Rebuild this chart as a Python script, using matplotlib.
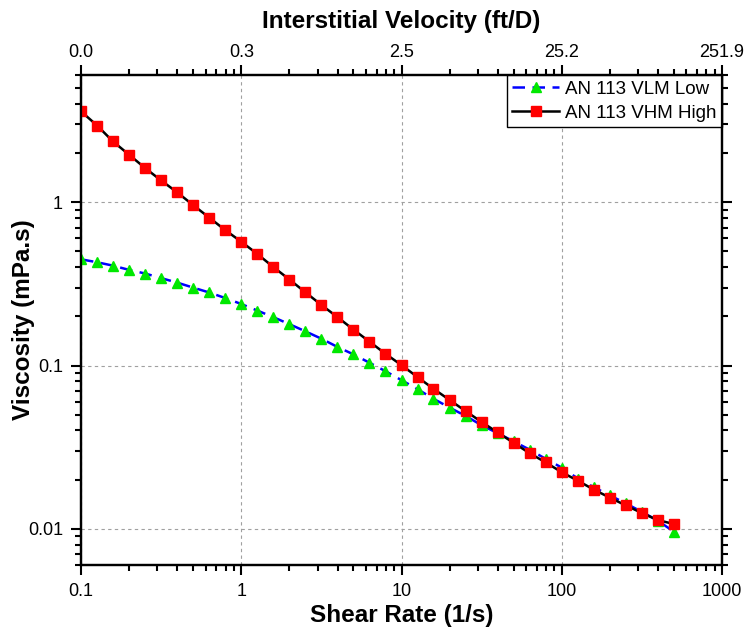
import numpy as np
import matplotlib
matplotlib.use("Agg")
import matplotlib.pyplot as plt
from matplotlib.ticker import LogLocator, NullFormatter, FixedLocator, FixedFormatter

plt.rcParams['font.family'] = ['Liberation Sans', 'DejaVu Sans']

# shear rate, 10 points per decade from 0.1 to ~500 1/s
shear_rate = [0.1, 0.126, 0.158, 0.2, 0.251, 0.316, 0.398, 0.501, 0.631, 0.794,
              1.0, 1.26, 1.58, 2.0, 2.51, 3.16, 3.98, 5.01, 6.31, 7.94,
              10.0, 12.6, 15.8, 20.0, 25.1, 31.6, 39.8, 50.1, 63.1, 79.4,
              100.0, 126.0, 158.0, 200.0, 251.0, 316.0, 398.0, 501.0]

visc_vlm_low = [0.447, 0.429, 0.409, 0.385, 0.366, 0.343, 0.322, 0.300, 0.280, 0.259,
                0.238, 0.217, 0.198, 0.179, 0.162, 0.146, 0.130, 0.117, 0.104, 0.0923,
                0.0813, 0.0716, 0.0626, 0.0552, 0.0491, 0.0431, 0.0385, 0.0343, 0.0305, 0.0268,
                0.0237, 0.0203, 0.0180, 0.0160, 0.0143, 0.0127, 0.0112, 0.0096]

visc_vhm_high = [3.60, 2.95, 2.36, 1.95, 1.62, 1.36, 1.15, 0.96, 0.805, 0.675,
                 0.573, 0.482, 0.402, 0.336, 0.281, 0.235, 0.198, 0.166, 0.140, 0.118,
                 0.1005, 0.0849, 0.0721, 0.0614, 0.0526, 0.0451, 0.0389, 0.0336, 0.0290, 0.0255,
                 0.0222, 0.0197, 0.0174, 0.0155, 0.0139, 0.0125, 0.0113, 0.0107]

x_ticks = [0.1, 1, 10, 100, 1000]
x_labels = ["0.1", "1", "10", "100", "1000"]
top_labels = ["0.0", "0.3", "2.5", "25.2", "251.9"]
y_ticks = [0.01, 0.1, 1]
y_labels = ["0.01", "0.1", "1"]

fig = plt.figure(figsize=(7.5, 6.37), dpi=100)
ax = fig.add_axes([0.108, 0.113, 0.8547, 0.769])

ax.plot(shear_rate, visc_vlm_low, color='#0000ff', linestyle=(0, (5, 3)), linewidth=1.8,
        marker='^', markersize=7.5, markerfacecolor='#00e800', markeredgecolor='#00e800',
        label='AN 113 VLM Low', zorder=3)
ax.plot(shear_rate, visc_vhm_high, color='black', linestyle='-', linewidth=1.8,
        marker='s', markersize=7, markerfacecolor='#ff0000', markeredgecolor='#ff0000',
        label='AN 113 VHM High', zorder=4)

ax.set_xscale('log')
ax.set_yscale('log')
ax.set_xlim(0.1, 1000)
ax.set_ylim(0.006, 6)

ax.xaxis.set_major_locator(FixedLocator(x_ticks))
ax.xaxis.set_major_formatter(FixedFormatter(x_labels))
ax.yaxis.set_major_locator(FixedLocator(y_ticks))
ax.yaxis.set_major_formatter(FixedFormatter(y_labels))
ax.xaxis.set_minor_locator(LogLocator(base=10, subs=np.arange(2, 10)))
ax.yaxis.set_minor_locator(LogLocator(base=10, subs=np.arange(2, 10)))
ax.xaxis.set_minor_formatter(NullFormatter())
ax.yaxis.set_minor_formatter(NullFormatter())

ax.tick_params(which='both', direction='out', width=1.5, labelsize=13,
               right=True, top=False)
ax.tick_params(which='major', length=7)
ax.tick_params(which='minor', length=4)
ax.tick_params(axis='x', pad=6)
ax.tick_params(axis='y', pad=6)

ax.grid(True, which='major', linestyle=(0, (3, 3)), color='#a0a0a0', linewidth=0.8)

for sp in ax.spines.values():
    sp.set_linewidth(1.6)

ax.set_xlabel('Shear Rate (1/s)', fontsize=17.5, fontweight='bold', labelpad=3)
ax.set_ylabel('Viscosity (mPa.s)', fontsize=17.5, fontweight='bold')
ax.yaxis.set_label_coords(-0.072, 0.5)

# top axis: interstitial velocity
ax2 = ax.twiny()
ax2.set_xscale('log')
ax2.set_xlim(ax.get_xlim())
ax2.xaxis.set_major_locator(FixedLocator(x_ticks))
ax2.xaxis.set_major_formatter(FixedFormatter(top_labels))
ax2.xaxis.set_minor_locator(LogLocator(base=10, subs=np.arange(2, 10)))
ax2.xaxis.set_minor_formatter(NullFormatter())
ax2.tick_params(which='both', direction='out', width=1.5, labelsize=13)
ax2.tick_params(which='major', length=7)
ax2.tick_params(which='minor', length=4)
ax2.set_xlabel('Interstitial Velocity (ft/D)', fontsize=17.5, fontweight='bold', labelpad=11)
for sp in ax2.spines.values():
    sp.set_linewidth(1.6)

leg = ax.legend(loc='upper right', borderaxespad=0, fontsize=13.5, fancybox=False,
                framealpha=1, edgecolor='black', handlelength=2.5, handletextpad=0.3,
                borderpad=0.3, labelspacing=0.35)
leg.get_frame().set_linewidth(1.0)

fig.savefig('out.png', dpi=100)
